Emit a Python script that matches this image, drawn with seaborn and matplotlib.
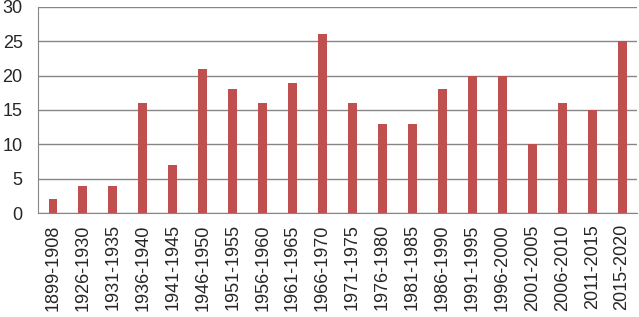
import matplotlib
matplotlib.use("Agg")
import matplotlib.pyplot as plt
import seaborn as sns
import pandas as pd
import numpy as np

periods = ["1899-1908", "1926-1930", "1931-1935", "1936-1940", "1941-1945",
           "1946-1950", "1951-1955", "1956-1960", "1961-1965", "1966-1970",
           "1971-1975", "1976-1980", "1981-1985", "1986-1990", "1991-1995",
           "1996-2000", "2001-2005", "2006-2010", "2011-2015", "2015-2020"]
counts = [2, 4, 4, 16, 7, 21, 18, 16, 19, 26, 16, 13, 13, 18, 20, 20, 10, 16, 15, 25]

df = pd.DataFrame({"period": periods, "count": counts})

sns.set_style("white")
plt.rcParams['font.family'] = ['Liberation Sans', 'DejaVu Sans']

fig = plt.figure(figsize=(6.39, 3.17), dpi=100)
ax = fig.add_axes([0.0595, 0.328, 0.9375, 0.65])

sns.barplot(data=df, x="period", y="count", color="#C0504D", saturation=1,
            width=0.3, linewidth=0, ax=ax)

ax.set_ylim(0, 30)
ax.set_yticks(range(0, 31, 5))
ax.set_xlim(-0.5, len(periods) - 0.5)
ax.yaxis.grid(True, color="#868686", linewidth=1)
ax.set_axisbelow(True)
ax.set_xlabel("")
ax.set_ylabel("")

for s in ["top", "right"]:
    ax.spines[s].set_visible(False)
for s in ["left", "bottom"]:
    ax.spines[s].set_color("#868686")

# category separators as ticks on the x axis
ax.set_xticks(np.arange(-0.5, len(periods), 1), minor=True)
ax.tick_params(axis="x", which="minor", length=4, color="#868686", direction="out")
ax.tick_params(axis="x", which="major", length=0, labelsize=13, rotation=90, pad=8)
ax.tick_params(axis="y", length=5, color="#868686", direction="out", labelsize=13, pad=6)

fig.savefig("out.png", dpi=100)
